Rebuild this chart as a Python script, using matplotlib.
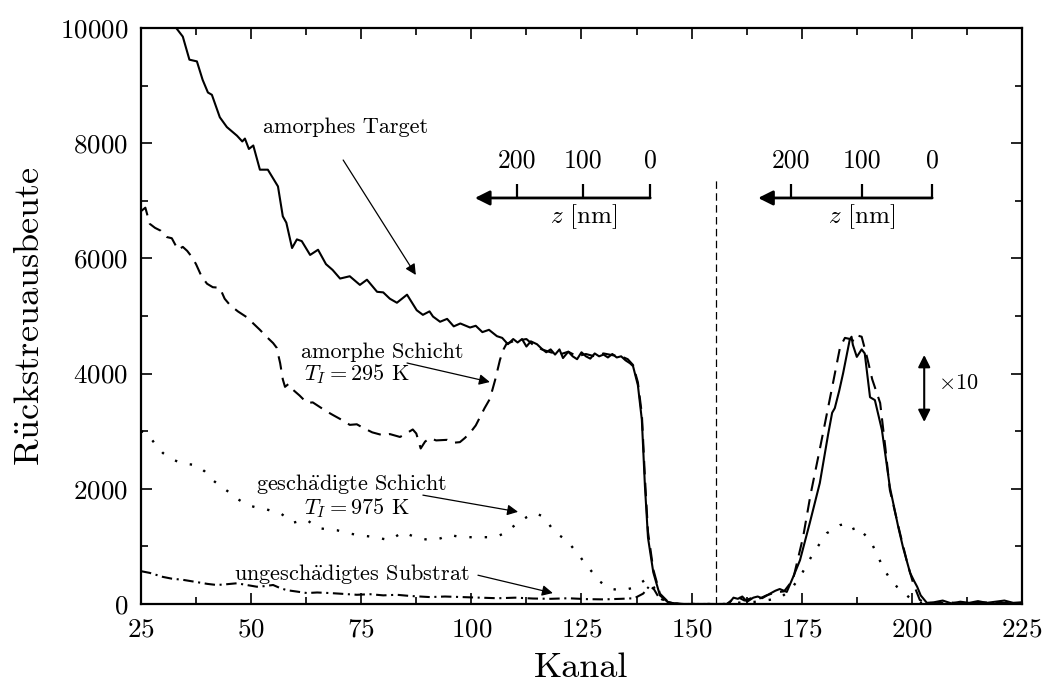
import numpy as np
import matplotlib.pyplot as plt
from matplotlib.ticker import MultipleLocator

# ----------------------------------------------------------------------------
# Data
# ----------------------------------------------------------------------------
# amorphes Target (solid)
target_x = [33, 34.5, 36, 37.7, 39, 40.2, 41.1, 42.9, 44.5, 46.8, 48, 48.6, 49.5,
            50.5, 52, 53.8, 56.1, 57.2, 58, 59.3, 60.4, 61.5, 63.4, 65.2, 67, 68.5,
            70.2, 72.4, 74.7, 76.3, 78.6, 80, 81.5, 83.1, 85.4, 87.6, 89, 90.5,
            91.3, 92.9, 94.5, 96, 97.5, 99.7, 101, 102.5, 104, 105.8, 107, 108.3,
            109.5, 110.5, 111.5, 112.5, 113.5, 114.9, 116, 117, 118, 119, 120, 120.8,
            122, 123, 124, 125, 126, 127, 128, 129, 130, 131, 132, 133, 134, 135,
            136, 136.7, 137.8, 138.7, 139.4,
            140.1, 141.3, 142.8, 144.5, 146, 148, 152, 156, 158, 158.7, 159.5,
            160.5, 161.5, 162.6, 164, 165, 166, 167.8, 169, 170, 171.6, 173, 174.6,
            176.8, 179.1, 181, 181.9, 182.5, 183.5, 184.4, 185.9, 186.3, 186.6,
            187.5, 188.6, 189.3, 190.5, 191.6, 193.2, 195, 196.9, 198, 199.6, 200.5,
            201.2, 202, 203.4, 205, 207, 209, 211, 213, 215, 217, 219, 221, 223, 225]
target_y = [10000, 9850, 9450, 9420, 9100, 8880, 8840, 8450, 8280, 8130, 8030, 8080,
            7900, 7960, 7540, 7540, 7250, 6730, 6620, 6180, 6330, 6300, 6060, 6150,
            5900, 5800, 5650, 5690, 5540, 5630, 5420, 5410, 5300, 5230, 5370, 5100,
            5020, 5080, 4990, 4900, 4950, 4820, 4870, 4800, 4830, 4720, 4760, 4650,
            4620, 4510, 4600, 4540, 4600, 4470, 4560, 4510, 4430, 4370, 4420, 4330,
            4420, 4270, 4380, 4300, 4250, 4370, 4300, 4260, 4350, 4300, 4330, 4280,
            4340, 4280, 4300, 4230, 4180, 4130, 3800, 3200, 2050,
            1150, 550, 150, 40, 10, 0, 0, 0, 0, 30, 110, 90, 130, 40, 110, 130, 100,
            180, 230, 260, 210, 460, 760, 1400, 2100, 2950, 3320, 3400, 3700, 4010,
            4590, 4640, 4500, 4290, 4420, 4350, 3590, 3540, 3020, 2030, 1340, 980,
            540, 400, 300, 150, 20, 30, 60, 10, 40, 20, 50, 20, 40, 60, 20, 30]

# amorphe Schicht, T_I = 295 K (dashed)
amorph_x = [25, 26, 27, 28.2, 29.5, 30.9, 32, 33.4, 34.5, 35.5, 36.6, 37.5, 38.8,
            40, 41.3, 42.9, 44, 45.2, 47, 49, 50.5, 52, 53.5, 55, 55.8, 56.6, 57.2,
            57.7, 58.5, 59.5, 61, 62.7, 64, 65.6, 67, 68.6, 70.5, 72.4, 74, 75.4,
            77.5, 79.9, 81.5, 83.8, 85, 86.7, 87.5, 88.5, 89.5, 90.6, 92, 94.5, 96,
            97.4, 98.5, 99.7, 101, 102, 103, 104.2, 105.4, 106.5, 107.3, 108, 109.5,
            111, 112.5, 114, 116, 118, 120, 122, 124, 126, 128, 130, 132, 134,
            135.5, 136.7, 137.8, 138.7, 139.4, 140.1, 141.3, 142.8, 144.5, 146, 148,
            152, 156, 158, 159, 160.5, 162, 163.5, 165, 167, 169, 171, 173, 175.3,
            177, 179, 180.7, 182, 183.7, 184.8, 186, 187, 187.7, 188.6, 189.8, 191,
            192.8, 194, 195, 197.3, 199, 200.3, 201.8, 203, 205, 208, 212, 215, 220,
            225]
amorph_y = [6820, 6880, 6600, 6530, 6480, 6370, 6350, 6150, 6200, 6130, 6020, 5900,
            5680, 5560, 5500, 5490, 5300, 5190, 5080, 4980, 4870, 4760, 4640, 4530,
            4450, 4180, 3900, 3770, 3820, 3720, 3620, 3490, 3500, 3420, 3350, 3280,
            3200, 3110, 3120, 3060, 2980, 2930, 2950, 2900, 2950, 3030, 2960, 2700,
            2820, 2880, 2840, 2850, 2800, 2810, 2880, 2970, 3100, 3250, 3400, 3560,
            3890, 4240, 4420, 4520, 4560, 4580, 4600, 4500, 4420, 4370, 4330, 4380,
            4300, 4340, 4300, 4350, 4320, 4300, 4250, 4150, 3850, 3300, 2200, 1250,
            600, 180, 50, 10, 0, 0, 0, 0, 60, 120, 60, 100, 80, 150, 200, 220, 420,
            1160, 1900, 2650, 3300, 3800, 4460, 4620, 4600, 4560, 4660, 4640, 4290,
            3900, 3490, 2700, 1980, 1230, 700, 360, 70, 30, 10, 30, 10, 30, 20, 10]

# geschaedigte Schicht, T_I = 975 K (dotted)
damaged_x = [25, 26.3, 28, 30, 32, 33.9, 35.5, 37.7, 39.5, 41.3, 43, 45.2, 47, 49.1,
             51, 52.7, 54.5, 56.6, 58, 59.5, 61, 62.7, 64, 65, 67, 69.5, 72, 74, 76,
             78.6, 80, 81.5, 83, 84.5, 86, 87.6, 89, 90.6, 93, 95.1, 97, 99.7, 102,
             104, 105.8, 107.5, 109.4, 111, 112.6, 114.4, 116.3, 117.5, 118.6, 120,
             121.6, 123, 124.7, 126, 127.6, 129, 130.8, 132, 133.7, 135, 136.7,
             138.3, 139.5, 140.6, 141.5, 142.1, 143.5, 145, 147, 152, 156, 158, 160,
             165, 170, 172.5, 174.6, 177.6, 180.7, 183.7, 185.5, 186.5, 187, 188.2,
             190.5, 192, 193.4, 195, 196.6, 199.6, 200.5, 201, 202, 205]
damaged_y = [3000, 2970, 2800, 2620, 2520, 2450, 2430, 2410, 2300, 2150, 2050, 1930,
             1820, 1720, 1680, 1660, 1620, 1580, 1500, 1410, 1440, 1460, 1380, 1320,
             1300, 1280, 1230, 1200, 1180, 1160, 1130, 1110, 1180, 1250, 1200, 1150,
             1130, 1110, 1140, 1200, 1170, 1160, 1160, 1160, 1170, 1230, 1340, 1430,
             1510, 1580, 1520, 1400, 1280, 1190, 1110, 980, 820, 680, 540, 400, 300,
             260, 240, 250, 280, 360, 420, 400, 280, 190, 80, 30, 0, 0, 0, 0, 20, 40,
             100, 250, 470, 880, 1230, 1370, 1400, 1350, 1260, 1290, 1110, 880, 640,
             440, 300, 100, 110, 60, 20, 0]

# ungeschaedigtes Substrat (dash-dot)
substrate_x = [25, 27, 30, 32, 34.5, 37.7, 40, 42.2, 44, 46.8, 49, 51.3, 53, 55,
               56.5, 58.1, 60, 62.7, 65, 67.9, 70, 74, 77, 80, 83.1, 86, 90.6, 94,
               98, 102, 106, 110, 114, 118, 122, 126, 130, 134, 137, 139, 140.5,
               141.5, 142.5, 144, 146, 148, 155]
substrate_y = [570, 540, 470, 440, 420, 380, 350, 330, 340, 360, 330, 300, 310, 330,
               280, 240, 220, 190, 200, 190, 180, 160, 170, 150, 160, 140, 120, 130,
               120, 110, 100, 110, 95, 90, 100, 85, 80, 90, 100, 180, 320, 250, 120,
               40, 10, 0, 0]

# depth scales z [nm] (channel of 200, 100, 0 nm)
depth_labels = ['200', '100', '0']
depth_left = [110.4, 125.4, 140.6]
depth_right = [172.6, 188.7, 204.6]

# ----------------------------------------------------------------------------
# Style
# ----------------------------------------------------------------------------
plt.rcParams['font.family'] = 'serif'
plt.rcParams['font.serif'] = ['cmr10']
plt.rcParams['mathtext.fontset'] = 'cm'
plt.rcParams['axes.formatter.use_mathtext'] = True
plt.rcParams['axes.unicode_minus'] = False

fig = plt.figure(figsize=(10.48, 6.91), dpi=100)
ax = fig.add_axes([0.1345, 0.1259, 0.8407, 0.8336])

ax.plot(target_x, target_y, color='k', lw=1.5)
ax.plot(amorph_x, amorph_y, color='k', lw=1.5, linestyle=(0, (6.5, 4)))
ax.plot(damaged_x, damaged_y, color='k', lw=1.7, linestyle=(0, (1, 5.5)))
ax.plot(substrate_x, substrate_y, color='k', lw=1.5, linestyle=(0, (5, 2.2, 1, 2.2)))

# separator between the two spectra parts
ax.plot([155.5, 155.5], [0, 7400], color='k', lw=0.9, linestyle=(0, (6, 3.5)))

ax.set_xlim(25, 225)
ax.set_ylim(0, 10000)
ax.xaxis.set_major_locator(MultipleLocator(25))
ax.xaxis.set_minor_locator(MultipleLocator(12.5))
ax.yaxis.set_major_locator(MultipleLocator(2000))
ax.yaxis.set_minor_locator(MultipleLocator(1000))
ax.tick_params(which='both', direction='in', top=True, right=True, width=1.2,
               labelsize=19.5)
ax.tick_params(which='major', length=8)
ax.tick_params(which='minor', length=5)
ax.tick_params(axis='x', pad=10)
ax.tick_params(axis='y', pad=9)
for sp in ax.spines.values():
    sp.set_linewidth(1.6)

ax.set_xlabel('Kanal', fontsize=26, labelpad=8)
ax.set_ylabel(r'R$\ddot{\mathrm{u}}$ckstreuausbeute', fontsize=26, labelpad=10)

# ----------------------------------------------------------------------------
# Annotations
# ----------------------------------------------------------------------------
thin = dict(arrowstyle='-|>', lw=0.9, color='k', mutation_scale=16,
            shrinkA=0, shrinkB=0)
fs = 16

ax.text(71.5, 8280, 'amorphes Target', fontsize=fs, ha='center', va='center')
ax.annotate('', xy=(87.4, 5712), xytext=(70.9, 7708), arrowprops=thin)

ax.text(79.7, 4375, 'amorphe Schicht', fontsize=fs, ha='center', va='center')
ax.text(74, 3990, r'$T_I = 295$ K', fontsize=fs, ha='center', va='center')
ax.annotate('', xy=(104.2, 3854), xytext=(85.4, 4184), arrowprops=thin)

ax.text(72.7, 2080, r'gesch$\ddot{\mathrm{a}}$digte Schicht', fontsize=fs,
        ha='center', va='center')
ax.text(74, 1670, r'$T_I = 975$ K', fontsize=fs, ha='center', va='center')
ax.annotate('', xy=(110.6, 1600), xytext=(89, 1890), arrowprops=thin)

ax.text(72.8, 520, r'ungesch$\ddot{\mathrm{a}}$digtes Substrat', fontsize=fs,
        ha='center', va='center')
ax.annotate('', xy=(118.5, 190), xytext=(101.5, 500), arrowprops=thin)

# depth scales
line_y, tick_top = 7049, 7300
for ticks, tip in ((depth_left, 100.8), (depth_right, 165.1)):
    ax.annotate('', xy=(tip, line_y), xytext=(ticks[-1], line_y),
                arrowprops=dict(arrowstyle='-|>', lw=2, color='k',
                                mutation_scale=22, shrinkA=0, shrinkB=0))
    for t, lab in zip(ticks, depth_labels):
        ax.plot([t, t], [line_y, tick_top], color='k', lw=1.6,
                solid_capstyle='butt')
        ax.text(t, 7700, lab, fontsize=18.5, ha='center', va='center')
    ax.text((ticks[0] + ticks[-1]) / 2, 6720, r'$z$ [nm]', fontsize=18,
            ha='center', va='center')

# x10 marker
ax.annotate('', xy=(202.8, 4323), xytext=(202.8, 3160),
            arrowprops=dict(arrowstyle='<|-|>', lw=1.5, color='k',
                            mutation_scale=18, shrinkA=0, shrinkB=0))
ax.text(210.5, 3840, r'$\times$10', fontsize=16, ha='center', va='center')

fig.savefig('out.png', dpi=100)
